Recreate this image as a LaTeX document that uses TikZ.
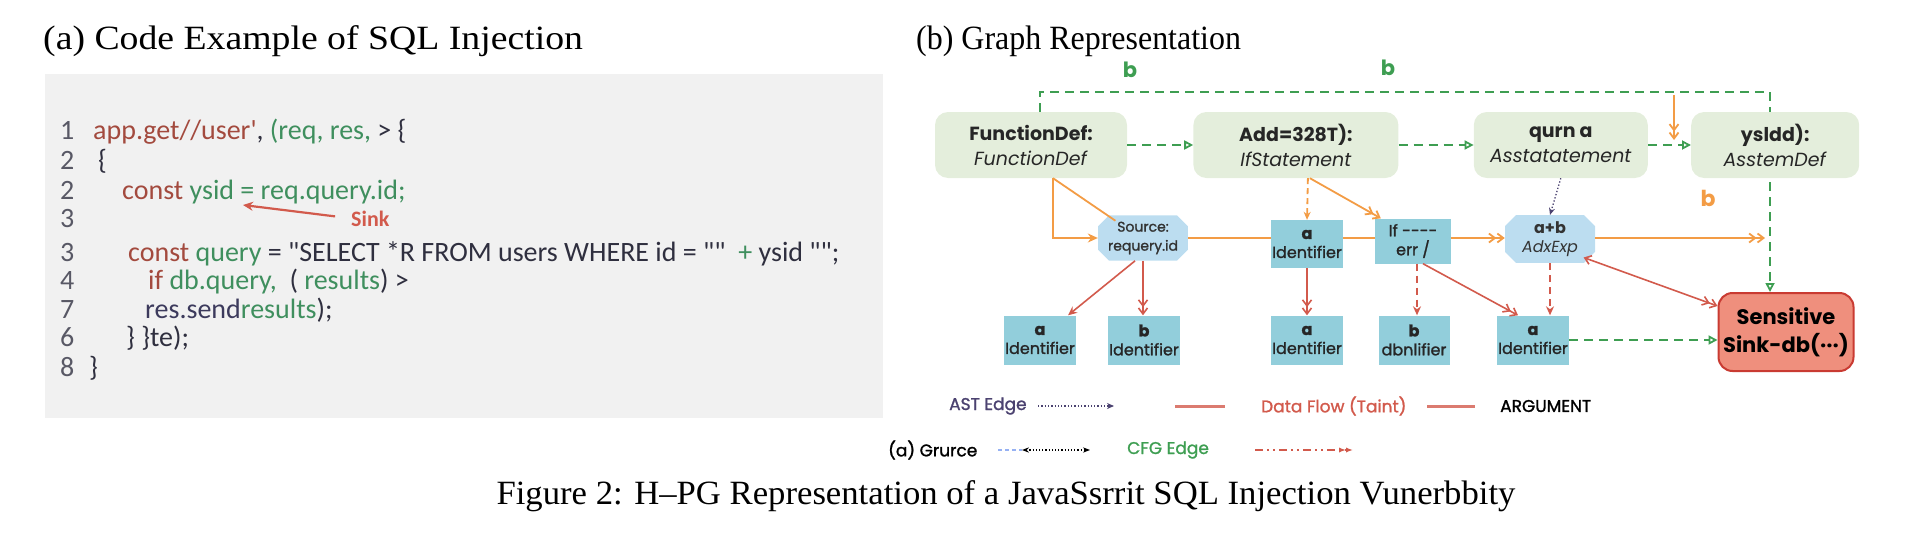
\documentclass[tikz,border=0pt]{standalone}
\usepackage{fontspec}
\setmainfont{Liberation Serif}
\newfontfamily\graphfont{Poppins}
\newfontfamily\graphmed[FakeBold=1.3]{Poppins}
\newfontfamily\codefont{Carlito}
\usepackage{tikz}
\usetikzlibrary{arrows.meta, positioning, shapes.misc, backgrounds}

\definecolor{codebg}{HTML}{F1F1F1}
\definecolor{kwred}{HTML}{A34A3E}
\definecolor{idgreen}{HTML}{3F8F5E}
\definecolor{codedark}{HTML}{2F2F3F}
\definecolor{sendpurple}{HTML}{3C3A5C}
\definecolor{astfill}{HTML}{E4EEDC}
\definecolor{cfggreen}{HTML}{3E9E52}
\definecolor{floworange}{HTML}{F39C45}
\definecolor{srcfill}{HTML}{BCDDF0}
\definecolor{idfill}{HTML}{92CEDB}
\definecolor{taintred}{HTML}{D25A4C}
\definecolor{sinkfill}{HTML}{EF8F7D}
\definecolor{sinkdraw}{HTML}{C93B32}
\definecolor{astpurple}{HTML}{4B4270}

\newcommand{\kw}[1]{\textcolor{kwred}{#1}}
\newcommand{\ident}[1]{\textcolor{idgreen}{#1}}

\begin{document}
\begin{tikzpicture}[x=1pt, y=-1pt,
  heading/.style={anchor=base west, inner sep=0pt, font=\fontsize{34}{40}\selectfont},
  codeline/.style={anchor=base west, inner sep=0pt, text=codedark, font=\codefont\fontsize{28}{32}\selectfont},
  lineno/.style={anchor=base west, inner sep=0pt, text=codedark!80, font=\codefont\fontsize{28}{32}\selectfont},
  astbox/.style={rectangle, rounded corners=13pt, fill=astfill, minimum height=66pt,
                 align=center, text=black!85, font=\graphfont\fontsize{19}{25}\selectfont},
  srcbox/.style={chamfered rectangle, chamfered rectangle xsep=8pt, fill=srcfill,
                 minimum height=43pt, inner xsep=2pt, align=center, text=black!80,
                 font=\graphmed\fontsize{14}{19}\selectfont},
  idbox/.style={rectangle, fill=idfill, minimum width=71pt, minimum height=48pt, inner sep=1pt,
                align=center, text=black!85, font=\graphmed\fontsize{16}{19}\selectfont},
  sinkbox/.style={rectangle, rounded corners=14pt, draw=sinkdraw, line width=2pt, fill=sinkfill,
                  minimum width=135pt, minimum height=78pt, align=center,
                  font=\graphfont\bfseries\fontsize{21}{28}\selectfont},
  cfg/.style={draw=cfggreen, line width=1.8pt, dash pattern=on 9pt off 6pt,
              -{Triangle[open, length=9pt, width=9pt]}},
  flow/.style={draw=floworange, line width=1.8pt},
  flowarr/.style={flow, -{Straight Barb[length=6pt, width=9pt]Straight Barb[length=6pt, width=9pt]}},
  taint/.style={draw=taintred, line width=1.6pt, -{Stealth[length=9pt, width=8pt]}},
  taintdbl/.style={draw=taintred, line width=1.6pt,
                   -{Straight Barb[length=6pt, width=9pt]Straight Barb[length=6pt, width=9pt]}},
  ast/.style={draw=astpurple, line width=1.3pt, dotted, -{Stealth[length=7pt, width=6pt]}},
  legend/.style={inner sep=0pt, font=\graphmed\fontsize{17}{20}\selectfont},
]
\useasboundingbox (0,0) rectangle (1920,544);

%% (a) CODE EXAMPLE
\node[heading] (titlea) at (43,49) {\scalebox{1.11}[1]{(a) Code Example of SQL Injection}};
\fill[codebg] (45,74) rectangle (883,418);

\node[lineno] (n1) at (60,139) {1};
\node[lineno] (n2) at (60,169) {2};
\node[lineno] (n3) at (60,199) {2};
\node[lineno] (n4) at (60,227) {3};
\node[lineno] (n5) at (60,261) {3};
\node[lineno] (n6) at (60,289) {4};
\node[lineno] (n7) at (60,318) {7};
\node[lineno] (n8) at (60,346) {6};
\node[lineno] (n9) at (60,376) {8};

\node[codeline] (c1) at (93,139)  {\kw{app.get//user'}, \ident{(req, res,} > \{};
\node[codeline] (c2) at (98,169)  {\{};
\node[codeline] (c3) at (122,199) {\kw{const} \ident{ysid = req.query.id;}};
\node[codeline] (c5) at (128,261) {\kw{const} \ident{query} = "SELECT *R FROM users WHERE id = ""~~\ident{+} ysid~"";};
\node[codeline] (c6) at (148,289) {\kw{if} \ident{db.query,}~~( \ident{results}) >};
\node[codeline] (c7) at (145,318) {\textcolor{sendpurple}{res.send}\ident{results});};
\node[codeline] (c8) at (126,346) {\} \}te);};
\node[codeline] (c9) at (89,376)  {\}};

\node[codeline, text=taintred, font=\codefont\bfseries\fontsize{22}{26}\selectfont] (sinklbl) at (351,226) {Sink};
\coordinate (ysidpt) at (243,205);
\draw[taintred, line width=2.2pt, shorten <=16pt, -{Stealth[length=10pt, width=9pt]}] (sinklbl.west) -- (ysidpt);

%% (b) GRAPH
\node[heading] (titleb) at (916,49) {\scalebox{0.94}[1]{(b) Graph Representation}};

%% AST / CFG statements
\node[astbox, minimum width=192pt] (fdef) at (1031,145) {\textbf{FunctionDef:}\\\textit{FunctionDef}};
\node[astbox, minimum width=205pt, right=66pt of fdef] (ifst) {\textbf{Add=328T):}\\\textit{IfStatement}};
\node[astbox, minimum width=174pt, right=75pt of ifst] (asst) {\textbf{qurn a}\\\textit{Asstatatement}};
\node[astbox, minimum width=168pt, right=43pt of asst] (astd) {\textbf{ysldd):}\\\textit{AsstemDef}};

%% expression nodes
\node[srcbox, minimum width=87pt] (src) at (1143,238) {Source:\\requery.id};
\node[idbox, minimum height=48pt] (ida) at (1307,244) {\textbf{a}\\Identifier};
\node[idbox, minimum width=76pt, minimum height=45pt] (iferr) at (1413,241) {If ----\\err /};
\node[srcbox, minimum width=90pt, minimum height=45pt, font=\graphfont\fontsize{16}{19}\selectfont] (adx) at (1550,239) {\textbf{a+b}\\\textit{AdxExp}};

%% identifiers
\node[idbox, minimum height=49pt] (id1) at (1040,340) {\textbf{a}\\Identifier};
\node[idbox, minimum height=49pt] (id2) at (1144,340) {\textbf{b}\\Identifier};
\node[idbox, minimum height=49pt] (id3) at (1307,340) {\textbf{a}\\Identifier};
\node[idbox, minimum height=49pt] (id4) at (1414,340) {\textbf{b}\\dbnlifier};
\node[idbox, minimum height=49pt] (id5) at (1533,340) {\textbf{a}\\Identifier};

\node[sinkbox] (sink) at (1786,332) {Sensitive\\Sink-db(···)};

%% LABELS
\node[text=cfggreen, font=\graphfont\bfseries\fontsize{21}{24}\selectfont] (lb1) at (1130,70) {b};
\node[text=cfggreen, font=\graphfont\bfseries\fontsize{21}{24}\selectfont] (lb2) at (1388,68) {b};
\node[text=floworange, font=\graphfont\bfseries\fontsize{22}{24}\selectfont] (lb3) at (1708,198) {b};

%% CFG EDGES
\coordinate (cfgtop) at (1770,92);
\begin{pgfonlayer}{background}
  \draw[cfg] ([xshift=9pt]fdef.north) |- (cfgtop) -- (cfgtop |- sink.north);
\end{pgfonlayer}
\draw[cfg] (fdef) -- (ifst);
\draw[cfg] (ifst) -- (asst);
\draw[cfg] (asst) -- (astd);
\draw[cfg] (id5.east) -- (id5.east -| sink.west);

%% DATA FLOW
\coordinate (ohook) at (1674,95);
\coordinate (flowend) at (1765,238);
\draw[flowarr] (ohook) -- ++(0,45);
\draw[flow, -{Stealth[length=10pt, width=9pt]}] ([xshift=22pt]fdef.south) |- (src.west);
\draw[flow] ([xshift=22pt]fdef.south) -- ([xshift=12pt]src.north west);
\draw[flow] (src.east) -- (ida.west |- src.east);
\draw[flow] (ida.east |- src.east) -- (iferr.west |- src.east);
\draw[flowarr] (iferr.east |- src.east) -- (adx.west |- src.east);
\draw[flowarr] (adx.east |- src.east) -- (flowend);
\draw[flow, dash pattern=on 6pt off 4pt, -{Stealth[length=8pt, width=7pt]}] ([xshift=12pt]ifst.south) -- (ida.north);
\draw[flowarr] ([xshift=14pt]ifst.south) -- ([xshift=6pt]iferr.north west);

%% AST EDGE
\draw[ast] (asst.south) -- (adx.north);

%% TAINT / ARGUMENT
\draw[taint] ([xshift=-8pt]src.south) -- ([xshift=28pt]id1.north);
\draw[taintdbl] (src.south) -- (src.south |- id2.north);
\draw[taintdbl] (ida) -- (id3);
\draw[taint, dash pattern=on 7pt off 5pt] ([xshift=4pt]iferr.south) -- ([xshift=4pt]iferr.south |- id4.north);
\draw[taintdbl] ([xshift=10pt]iferr.south) -- ([xshift=-15pt]id5.north);
\draw[taint, dash pattern=on 7pt off 5pt] (adx.south) -- (adx.south |- id5.north);
\draw[taintdbl, {Straight Barb[length=6pt, width=9pt]}-{Straight Barb[length=6pt, width=9pt]Straight Barb[length=6pt, width=9pt]}]
  ([xshift=-6pt]adx.south east) -- ([yshift=-14pt]sink.north west);

%% LEGEND
\node[legend, text=astpurple, anchor=west] (lgast) at (949,406) {AST Edge};
\coordinate (lga1) at (1038,406);
\coordinate (lga2) at (1114,406);
\coordinate (lgr1) at (1175,406);
\coordinate (lgr2) at (1225,406);
\node[legend, text=taintred, anchor=west] (lgdf) at (1261,406) {Data Flow (Taint)};
\coordinate (lgr3) at (1427,406);
\coordinate (lgr4) at (1475,406);
\node[legend, text=black, anchor=west] (lgarg) at (1500,406) {ARGUMENT};
\draw[ast, line width=1.2pt] (lga1) -- (lga2);
\draw[taintred!80, line width=3pt] (lgr1) -- (lgr2);
\draw[taintred!80, line width=3pt] (lgr3) -- (lgr4);

\node[legend, text=black, anchor=west] (lgsrc) at (888,450) {(a) Grurce};
\coordinate (lgs1) at (998,450);
\coordinate (lgs2) at (1022,450);
\coordinate (lgs3) at (1090,450);
\node[legend, text=cfggreen, anchor=west] (lgcfg) at (1127,450) {CFG Edge};
\coordinate (lgc1) at (1255,450);
\coordinate (lgc2) at (1353,450);
\draw[srcfill!80!blue, line width=1.5pt, dash pattern=on 4pt off 3pt] (lgs1) -- (lgs2);
\draw[black, line width=1.2pt, dotted, {Stealth[length=7pt]}-{Stealth[length=7pt]}] (lgs2) -- (lgs3);
\draw[taintred, line width=2pt, dash pattern=on 8pt off 4pt on 2pt off 4pt on 2pt off 4pt,
      -{Latex[length=7pt]Latex[length=7pt]}] (lgc1) -- (lgc2);

%% CAPTION
\node[font=\fontsize{34}{40}\selectfont] (caption) at (1006,496)
  {\scalebox{1.02}[1]{Figure 2: H–PG Representation of a JavaSsrrit SQL Injection Vunerbbity}};
\end{tikzpicture}
\end{document}
